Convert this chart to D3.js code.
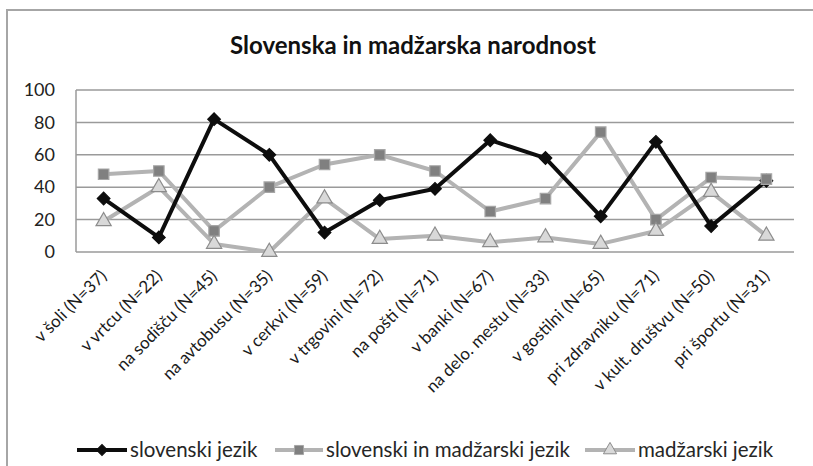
<!DOCTYPE html>
<html>
<head>
<meta charset="utf-8">
<script src="https://cdn.jsdelivr.net/npm/d3@7"></script>
<style>
  body { margin: 0; background: #fff; }
  svg { display: block; font-family: Lato, "Open Sans", sans-serif; }
</style>
</head>
<body>
<svg id="chart" width="813" height="466"></svg>
<script>
// data (percent)
const categories = ['v šoli (N=37)', 'v vrtcu (N=22)', 'na sodišču (N=45)', 'na avtobusu (N=35)',
  'v cerkvi (N=59)', 'v trgovini (N=72)', 'na pošti (N=71)', 'v banki (N=67)',
  'na delo. mestu (N=33)', 'v gostilni (N=65)', 'pri zdravniku (N=71)', 'v kult. društvu (N=50)',
  'pri športu (N=31)'];
const slovenski = [33, 9, 82, 60, 12, 32, 39, 69, 58, 22, 68, 16, 44];
const slovMadz = [48, 50, 13, 40, 54, 60, 50, 25, 33, 74, 20, 46, 45];
const madzarski = [19, 40, 5, 0, 33, 8, 10, 6, 9, 5, 13, 37, 10];
const yTicks = [0, 20, 40, 60, 80, 100];
const seriesNames = ['slovenski jezik', 'slovenski in madžarski jezik', 'madžarski jezik'];

const svg = d3.select('#chart');
const margin = { left: 76, right: 19, top: 90, bottom: 214 };
const width = 813, height = 466;

// chart frame (only top + left visible in the crop)
svg.append('path')
  .attr('d', 'M7,' + height + 'V10H' + width)
  .attr('fill', 'none')
  .attr('stroke', '#a6a6a6')
  .attr('stroke-width', 2);

svg.append('text')
  .attr('x', 413)
  .attr('y', 54)
  .attr('text-anchor', 'middle')
  .attr('font-size', 24)
  .attr('font-weight', 'bold')
  .attr('fill', '#111')
  .text('Slovenska in madžarska narodnost');

const x = d3.scaleBand().domain(categories).range([margin.left, width - margin.right]);
const y = d3.scaleLinear().domain([0, 100]).range([height - margin.bottom, margin.top]);
const cx = d => x(d) + x.bandwidth() / 2;

// gridlines
svg.append('g')
  .selectAll('line')
  .data(yTicks)
  .enter().append('line')
  .attr('x1', margin.left).attr('x2', width - margin.right)
  .attr('y1', d => y(d)).attr('y2', d => y(d))
  .attr('stroke', '#9a9a9a')
  .attr('stroke-width', 1.5);
svg.append('line')
  .attr('x1', margin.left).attr('x2', margin.left)
  .attr('y1', y(100)).attr('y2', y(0))
  .attr('stroke', '#9a9a9a')
  .attr('stroke-width', 1.5);

// y axis labels
const yAxis = svg.append('g')
  .attr('transform', 'translate(' + (margin.left - 21) + ',0)')
  .call(d3.axisLeft(y).tickValues(yTicks).tickSize(0).tickPadding(0));
yAxis.select('.domain').remove();
yAxis.selectAll('text')
  .attr('font-size', 18)
  .attr('font-family', 'Lato, sans-serif')
  .attr('fill', '#222');

// x axis labels, rotated
const xAxis = svg.append('g')
  .attr('transform', 'translate(0,' + y(0) + ')')
  .call(d3.axisBottom(x).tickSize(0).tickPadding(0));
xAxis.select('.domain').remove();
xAxis.selectAll('text')
  .attr('font-size', 17)
  .attr('font-family', 'Lato, sans-serif')
  .attr('fill', '#1a1a1a')
  .attr('text-anchor', 'end')
  .attr('dy', 0)
  .attr('transform', 'translate(4,25) rotate(-45)');

// diamond = square turned by 45 degrees
const series = [
  { name: seriesNames[0], values: slovenski, line: '#0d0d0d', sym: d3.symbolSquare, rot: 45, size: 80, fill: '#0d0d0d', stroke: '#0d0d0d' },
  { name: seriesNames[1], values: slovMadz, line: '#b3b3b3', sym: d3.symbolSquare, rot: 0, size: 110, fill: '#808080', stroke: '#a6a6a6' },
  { name: seriesNames[2], values: madzarski, line: '#b3b3b3', sym: d3.symbolTriangle, rot: 0, size: 100, fill: '#d9d9d9', stroke: '#8c8c8c' }
];

const line = d3.line()
  .x((d, i) => cx(categories[i]))
  .y(d => y(d));

// lines first (black one on top), then the markers
const lines = svg.append('g');
[2, 1, 0].forEach(k => {
  lines.append('path')
    .attr('d', line(series[k].values))
    .attr('fill', 'none')
    .attr('stroke', series[k].line)
    .attr('stroke-width', 4)
    .attr('stroke-linejoin', 'round');
});
series.forEach(s => {
  svg.append('g').selectAll('path')
    .data(s.values)
    .enter().append('path')
    .attr('transform', (d, i) => 'translate(' + cx(categories[i]) + ',' + y(d) + ') rotate(' + s.rot + ')')
    .attr('d', d3.symbol().type(s.sym).size(s.size))
    .attr('fill', s.fill)
    .attr('stroke', s.stroke)
    .attr('stroke-width', 1.2);
});

// legend
const legendX = [77, 275, 585];
const legendLen = [50, 48, 50];
const legend = svg.append('g').attr('transform', 'translate(0,450)');
series.forEach((s, i) => {
  const g = legend.append('g').attr('transform', 'translate(' + legendX[i] + ',0)');
  g.append('line')
    .attr('x1', 0).attr('x2', legendLen[i])
    .attr('stroke', s.line)
    .attr('stroke-width', 4);
  g.append('path')
    .attr('transform', 'translate(' + legendLen[i] / 2 + ',0) rotate(' + s.rot + ')')
    .attr('d', d3.symbol().type(s.sym).size(s.size * 0.75))
    .attr('fill', s.fill)
    .attr('stroke', s.stroke)
    .attr('stroke-width', 1);
  g.append('text')
    .attr('x', legendLen[i] + 3)
    .attr('y', 0)
    .attr('dy', '0.35em')
    .attr('font-size', 20.5)
    .attr('fill', '#262626')
    .text(s.name);
});
</script>
</body>
</html>
